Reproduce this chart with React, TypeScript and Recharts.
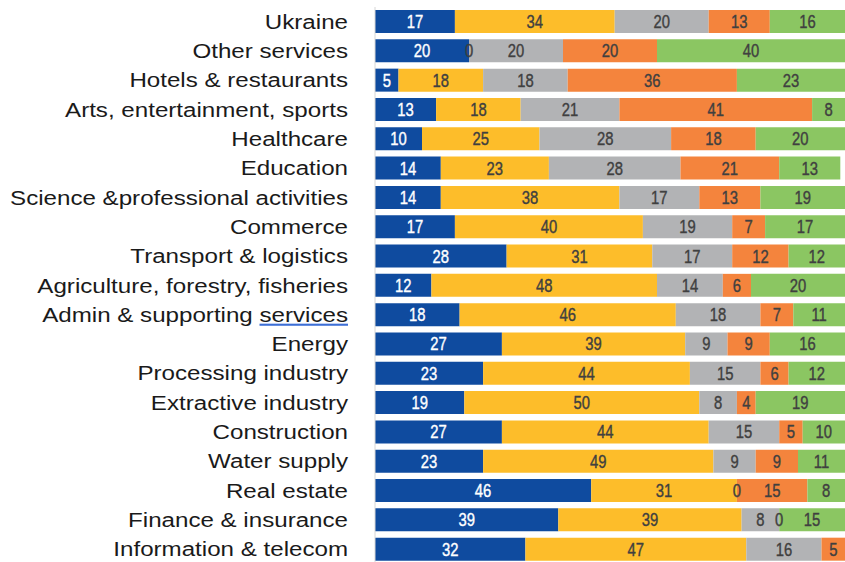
import { BarChart, Bar, XAxis, YAxis, LabelList } from "recharts";

const sectors = [
  "Ukraine",
  "Other services",
  "Hotels & restaurants",
  "Arts, entertainment, sports",
  "Healthcare",
  "Education",
  "Science &professional activities",
  "Commerce",
  "Transport & logistics",
  "Agriculture, forestry, fisheries",
  "Admin & supporting services",
  "Energy",
  "Processing industry",
  "Extractive industry",
  "Construction",
  "Water supply",
  "Real estate",
  "Finance & insurance",
  "Information & telecom",
];

const blueValues = [17, 20, 5, 13, 10, 14, 14, 17, 28, 12, 18, 27, 23, 19, 27, 23, 46, 39, 32];
const yellowValues = [34, 0, 18, 18, 25, 23, 38, 40, 31, 48, 46, 39, 44, 50, 44, 49, 31, 39, 47];
const greyValues = [20, 20, 18, 21, 28, 28, 17, 19, 17, 14, 18, 9, 15, 8, 15, 9, 0, 8, 16];
const orangeValues = [13, 20, 36, 41, 18, 21, 13, 7, 12, 6, 7, 9, 6, 4, 5, 9, 15, 0, 5];
const greenValues = [16, 40, 23, 8, 20, 13, 19, 17, 12, 20, 11, 16, 12, 19, 10, 11, 8, 15, null];

const series = [
  { key: "blue", values: blueValues, color: "#0f4b9f", text: "#ffffff" },
  { key: "yellow", values: yellowValues, color: "#fdbd2a", text: "#404040" },
  { key: "grey", values: greyValues, color: "#b2b3b5", text: "#404040" },
  { key: "orange", values: orangeValues, color: "#f4843d", text: "#404040" },
  { key: "green", values: greenValues, color: "#8bc662", text: "#404040" },
];

const data = sectors.map((name, i) => {
  const row: Record<string, string | number | null> = { name };
  series.forEach((s) => {
    row[s.key] = s.values[i];
  });
  return row;
});

const FONT = "'Liberation Sans', Arial, sans-serif";

function SectorTick(props: any) {
  const { x, y, payload } = props;
  const label: string = payload.value;
  const underlined = label === "Admin & supporting services";
  return (
    <g transform={`translate(${x - 19},${y + 7}) scale(1.15,1)`}>
      <text textAnchor="end" fontSize={21} fontFamily={FONT} fill="#1a1a1a">
        {underlined ? (
          <>
            <tspan>Admin &amp; supporting </tspan>
            <tspan fill="#3d6fd6" style={{ textDecoration: "underline" }}>
              <tspan fill="#1a1a1a">services</tspan>
            </tspan>
          </>
        ) : (
          label
        )}
      </text>
    </g>
  );
}

function makeValueLabel(color: string) {
  return (props: any) => {
    const { x, y, width, height, value } = props;
    if (value === null || value === undefined) return null;
    const cx = Number(x) + Number(width) / 2;
    const cy = Number(y) + Number(height) / 2;
    return (
      <text
        transform={`translate(${cx},${cy + 6.5}) scale(0.8,1)`}
        textAnchor="middle"
        fontSize={18.5}
        fontFamily={FONT}
        fill={color}
        stroke={color}
        strokeWidth={0.4}
      >
        {value}
      </text>
    );
  };
}

export default function App() {
  return (
    <div
      style={{
        position: "absolute",
        left: 0,
        top: 0,
        width: 845,
        height: 562,
        overflow: "hidden",
        background: "#fff",
      }}
    >
      <BarChart
        width={845}
        height={564}
        data={data}
        layout="vertical"
        margin={{ top: 7, right: 0, bottom: 0, left: 0 }}
        barCategoryGap={3}
      >
        <XAxis type="number" domain={[0, 100]} allowDataOverflow hide />
        <YAxis
          type="category"
          dataKey="name"
          width={375}
          interval={0}
          tickLine={false}
          axisLine={{ stroke: "#d6d6d6" }}
          tick={<SectorTick />}
        />
        {series.map((s) => (
          <Bar
            key={s.key}
            dataKey={s.key}
            stackId="a"
            fill={s.color}
            minPointSize={0.01}
            isAnimationActive={false}
          >
            <LabelList dataKey={s.key} content={makeValueLabel(s.text)} />
          </Bar>
        ))}
      </BarChart>
    </div>
  );
}
